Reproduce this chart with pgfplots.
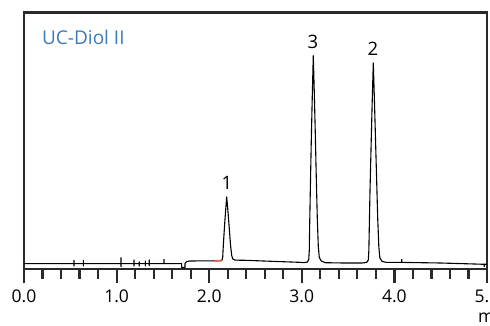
\documentclass[border=0pt]{standalone}
\usepackage{pgfplots}
\pgfplotsset{compat=1.18}
\usepackage{fontspec}
\setmainfont{Open Sans}
\definecolor{frame}{HTML}{2A2A2A}
\definecolor{titleblue}{HTML}{3C7AB8}
\definecolor{intred}{HTML}{E8604C}
\begin{document}
\begin{tikzpicture}
\begin{axis}[
  name=ax,
  scale only axis,
  width=463pt, height=256.5pt,
  xmin=0, xmax=5, ymin=-1, ymax=255.5,
  axis line style={line width=2.2pt, color=frame},
  xtick={0,1,2,3,4,5},
  xticklabels={0.0,1.0,2.0,3.0,4.0,5.0},
  minor x tick num=4,
  ytick=\empty,
  tick align=outside,
  xtick pos=bottom,
  major tick length=14.5pt,
  minor tick length=10pt,
  every tick/.style={line width=2.2pt, color=frame},
  xticklabel style={font=\fontsize{17.5}{20}\selectfont, anchor=north, inner sep=0pt, yshift=-6.5pt},
  /pgf/number format/assume math mode=true,
  clip=false,
]
% chromatogram trace
\addplot[black, line width=1.1pt, line join=round] coordinates {
 (0.000,4.3) (0.540,4.3) (0.540,7.7) (0.540,2.0) (0.540,4.3)
 (0.641,4.3) (0.641,7.7) (0.641,2.0) (0.641,4.3)
 (1.048,4.3) (1.048,10.3) (1.048,1.3) (1.048,4.3)
 (1.188,4.3) (1.188,8.0) (1.188,2.0) (1.188,4.3)
 (1.245,4.3) (1.245,6.0) (1.245,2.0) (1.245,4.3)
 (1.310,4.3) (1.310,7.0) (1.310,2.0) (1.310,4.3)
 (1.353,4.3) (1.353,8.0) (1.353,2.5) (1.353,4.3)
 (1.512,4.3) (1.512,8.7) (1.512,4.3)
 (1.703,4.3) (1.703,0.5) (1.739,0.5) (1.739,4.7) (1.760,6.5) (1.790,7.0)
 (2.050,7.2) (2.081,7.2) (2.124,7.4) (2.140,8.2) (2.146,11.0) (2.150,18.6)
 (2.157,29.4) (2.167,44.0) (2.178,58.0) (2.189,71.0) (2.200,59.5) (2.211,46.9)
 (2.221,34.2) (2.232,21.5) (2.243,12.6) (2.254,9.1) (2.275,8.0) (2.319,7.8)
 (2.387,7.7) (2.700,6.6) (3.000,5.6) (3.016,5.3) (3.059,5.9) (3.075,8.4)
 (3.081,17.7) (3.085,42.6) (3.092,77.8) (3.102,125.3) (3.113,170.9) (3.124,212.3)
 (3.135,175.0) (3.146,133.6) (3.156,92.2) (3.167,50.8) (3.178,21.9) (3.189,10.5)
 (3.210,7.0) (3.254,5.3) (3.450,5.0) (3.653,5.0) (3.701,5.6) (3.718,8.0)
 (3.724,17.0) (3.729,41.0) (3.736,75.0) (3.748,121.0) (3.760,165.0) (3.772,205.0)
 (3.784,169.0) (3.796,129.0) (3.808,89.0) (3.820,49.0) (3.832,21.0) (3.843,10.0)
 (3.867,6.6) (3.915,5.6) (4.079,5.6) (4.079,8.5) (4.079,5.6) (4.500,5.0)
 (4.970,3.7) (4.970,1.5) (4.970,3.7) (5.000,3.7)
};
% integration marker
\addplot[intred, line width=1.6pt] coordinates {(2.052,7.2) (2.141,7.3)};
% peak labels
\node[font=\fontsize{18.5}{20}\selectfont] at (axis cs:2.192,85) {1};
\node[font=\fontsize{18.5}{20}\selectfont] at (axis cs:3.121,226) {3};
\node[font=\fontsize{18.5}{20}\selectfont] at (axis cs:3.769,219) {2};
\node[font=\fontsize{19}{22}\selectfont, text=titleblue, anchor=west, inner sep=0pt] at (axis cs:0.194,231) {UC-Diol II};
\node[font=\fontsize{17.5}{20}\selectfont, anchor=base west, inner sep=0pt] at (axis cs:4.903,-54.7) {min};
\end{axis}
\pgfresetboundingbox
\path[use as bounding box] ([xshift=-24pt,yshift=-57pt]ax.south west) rectangle ([xshift=3pt,yshift=12.5pt]ax.north east);
\end{tikzpicture}
\end{document}
